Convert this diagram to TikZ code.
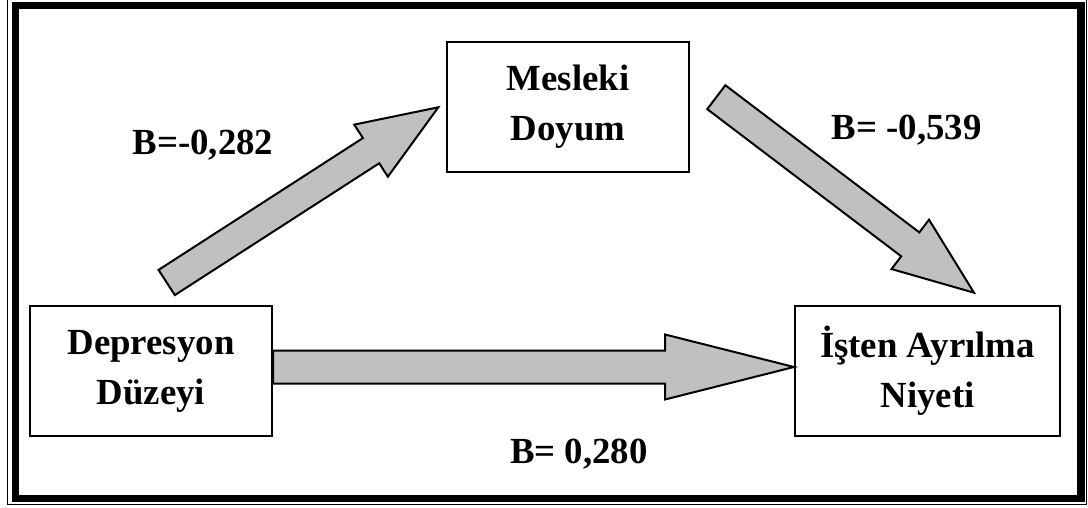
\documentclass[tikz,border=0pt]{standalone}
\usepackage{fontspec}
\setmainfont{Liberation Serif}
\usetikzlibrary{matrix,calc}
\definecolor{arrowgray}{RGB}{192,192,192}

\begin{document}
\begin{tikzpicture}[
        x=0.5pt,
        y=-0.5pt,
        box/.style={
          draw,
          line width=1pt,
          minimum width=121pt,
          minimum height=65pt,
          inner sep=0pt,
          anchor=center
          },
        net/.style={
          matrix of nodes,
          nodes={box},
          column sep=52pt,
          row sep=66pt
          },
        coef/.style={
          anchor=base,
          inner sep=0pt
          },
        blockarrow/.style={
          draw,
          line width=1pt,
          fill=arrowgray,
          line join=miter
          },
        font=\fontsize{18.4}{25}\selectfont\bfseries
        ]
        \useasboundingbox (0,0) rectangle (1088,508);
        % frame
        \draw[line width=0.6pt] (7.7,-4) rectangle (1086.4,504.4);
        \draw[line width=3.6pt] (15.5,5.5) rectangle (1081,498.5);
        \matrix[net] (mat) at (545,239)
        {
        &[34.5pt] \parbox{4.2cm}{\centering Mesleki\\Doyum} & \\
        \parbox{4.2cm}{\centering Depresyon\\Düzeyi} & & |[minimum width=132.5pt]| \parbox{4.4cm}{\centering İşten Ayrılma\\Niyeti} \\
        };
        \coordinate (dmtail) at (166.7,282.5);
        \coordinate (dmtip) at (438.3,107.3);
        \coordinate (mitail) at (716.3,97.2);
        \coordinate (mitip) at (974,292.7);
        \coordinate (ditail) at ([yshift=2pt]mat-2-1.east);
        \coordinate (ditip) at ([yshift=2pt]mat-2-3.west);
        \foreach \src/\dst/\sw/\hw/\hl in {dmtail/dmtip/7.5pt/15.5pt/40pt,
          mitail/mitip/7.5pt/15.5pt/40pt,
          ditail/ditip/8.25pt/16.25pt/64.5pt}
        {
          \coordinate (neck) at ($(\dst)!\hl!(\src)$);
          \draw[blockarrow] ($(\src)!\sw!90:(\dst)$) -- ($(neck)!\sw!90:(\dst)$)
            -- ($(neck)!\hw!90:(\dst)$) -- (\dst) -- ($(neck)!\hw!-90:(\dst)$)
            -- ($(neck)!\sw!-90:(\dst)$) -- ($(\src)!\sw!-90:(\dst)$) -- cycle;
        }
        \node[coef] (ldm) at (203,155) {B=-0,282};
        \node[coef] (lmi) at (906.6,140) {B= -0,539};
        \node[coef] (ldi) at (579,463.3) {B= 0,280};
    \end{tikzpicture}
\end{document}
